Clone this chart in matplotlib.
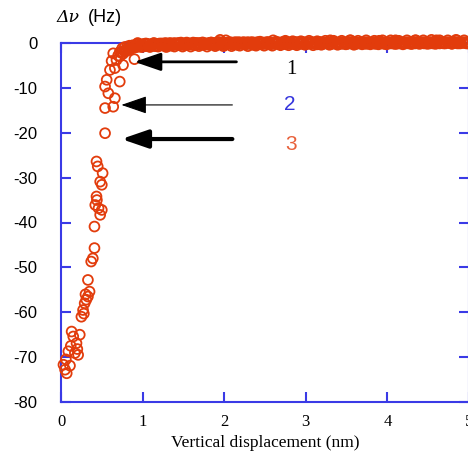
import matplotlib
matplotlib.use("Agg")
import matplotlib.pyplot as plt

# steep part of the curve
steep_x = [0.03, 0.05, 0.07, 0.11, 0.09, 0.13, 0.15, 0.19, 0.17, 0.23,
           0.21, 0.27, 0.29, 0.25, 0.31, 0.33, 0.35, 0.33, 0.37, 0.39,
           0.41, 0.41, 0.42, 0.46, 0.48, 0.50, 0.435, 0.45, 0.51, 0.48,
           0.50, 0.435, 0.54, 0.54, 0.64, 0.66, 0.58, 0.54, 0.56, 0.72,
           0.60, 0.66, 0.76, 0.64, 0.68, 0.90, 0.72, 0.06, 0.12, 0.20,
           0.28, 0.30, 0.44, 0.62, 0.70]
steep_y = [-71.7, -72.8, -73.6, -71.9, -68.7, -64.3, -65.4, -66.9, -69.1, -65.0,
           -69.5, -59.5, -58.0, -61.0, -57.2, -56.5, -55.4, -52.8, -48.7, -48.0,
           -40.9, -45.7, -36.1, -36.8, -38.3, -37.2, -26.4, -27.5, -29.0, -30.9,
           -31.6, -34.2, -20.1, -14.5, -14.2, -12.3, -11.2, -9.7, -8.2, -8.6,
           -6.0, -5.6, -4.9, -2.3, -3.8, -3.6, -3.0, -70.5, -67.5, -68.2,
           -60.3, -56.0, -35.0, -4.0, -2.8]

# the flat band near zero
band_x = [0.74, 0.77, 0.80, 0.83, 0.86, 0.90, 0.93, 0.97, 1.00, 1.04,
          1.08, 1.11, 1.15, 1.19, 1.22, 1.26, 1.30, 1.34, 1.37, 1.41,
          1.45, 1.49, 1.52, 1.56, 1.60, 1.64, 1.67, 1.71, 1.75, 1.79,
          1.82, 1.86, 1.90, 1.94, 1.97, 2.01, 2.05, 2.09, 2.12, 2.16,
          2.20, 2.24, 2.27, 2.31, 2.35, 2.39, 2.42, 2.46, 2.50, 2.54,
          2.57, 2.61, 2.65, 2.69, 2.72, 2.76, 2.80, 2.84, 2.87, 2.91,
          2.95, 2.99, 3.02, 3.06, 3.10, 3.14, 3.17, 3.21, 3.25, 3.29,
          3.32, 3.36, 3.40, 3.44, 3.47, 3.51, 3.55, 3.59, 3.62, 3.66,
          3.70, 3.74, 3.77, 3.81, 3.85, 3.89, 3.92, 3.96, 4.00, 4.04,
          4.07, 4.11, 4.15, 4.19, 4.22, 4.26, 4.30, 4.34, 4.37, 4.41,
          4.45, 4.49, 4.52, 4.56, 4.60, 4.64, 4.67, 4.71, 4.75, 4.79,
          4.82, 4.86, 4.90, 4.94, 4.97,
          0.75, 0.78, 0.81, 0.84, 0.88, 0.92, 0.95, 0.99, 1.02, 1.06,
          1.10, 1.13, 1.17, 1.21, 1.24, 1.28, 1.32, 1.36, 1.39, 1.43,
          1.47, 1.51, 1.54, 1.58, 1.62, 1.66, 1.69, 1.73, 1.77, 1.81,
          1.84, 1.88, 1.92, 1.96, 1.99, 2.03, 2.07, 2.11, 2.14, 2.18,
          2.22, 2.26, 2.29, 2.33, 2.37, 2.41, 2.44, 2.48, 2.52, 2.56,
          2.59, 2.63, 2.67, 2.71, 2.74, 2.78, 2.82, 2.86, 2.89, 2.93,
          2.97, 3.01, 3.04, 3.08, 3.12, 3.16, 3.19, 3.23, 3.27, 3.31,
          3.34, 3.38, 3.42, 3.46, 3.49, 3.53, 3.57, 3.61, 3.64, 3.68,
          3.72, 3.76, 3.79, 3.83, 3.87, 3.91, 3.94, 3.98, 4.02, 4.06,
          4.09, 4.13, 4.17, 4.21, 4.24, 4.28, 4.32, 4.36, 4.39, 4.43,
          4.47, 4.51, 4.54, 4.58, 4.62, 4.66, 4.69, 4.73, 4.77, 4.81,
          4.84, 4.88, 4.92, 4.96,
          0.89, 0.94, 0.99, 1.04, 1.09, 1.14, 1.19, 1.24, 1.29, 1.34,
          1.39, 1.44, 1.49, 1.54, 1.59, 1.64, 1.69, 1.74, 1.79, 1.84,
          1.89, 1.94, 1.99, 2.04, 2.09, 2.14, 2.19, 2.24, 2.29, 2.34,
          2.39, 2.44, 2.49, 2.54, 2.59, 2.64, 2.69, 2.74, 2.79, 2.84,
          2.89, 2.94, 2.99, 3.04, 3.09, 3.14, 3.19, 3.24, 3.29, 3.34,
          3.39, 3.44, 3.49, 3.54, 3.59, 3.64, 3.69, 3.74, 3.79, 3.84,
          3.89, 3.94, 3.99, 4.04, 4.09, 4.14, 4.19, 4.24, 4.29, 4.34,
          4.39, 4.44, 4.49, 4.54, 4.59, 4.64, 4.69, 4.74, 4.79, 4.84,
          4.89, 4.94, 4.99,
          0.72, 0.76, 0.79, 0.82, 0.85, 1.95, 2.02, 2.60, 2.75, 3.30,
          3.55, 3.90, 4.10, 4.35, 4.60, 4.85]
band_y = [-2.1, -1.8, -1.5, -1.3, -1.1, -1.0, -0.9, -0.8, -0.8, -0.7,
          -0.7, -0.6, -0.7, -0.6, -0.5, -0.6, -0.5, -0.6, -0.5, -0.4,
          -0.5, -0.4, -0.5, -0.4, -0.4, -0.5, -0.3, -0.4, -0.4, -0.3,
          -0.4, -0.3, -0.4, -0.3, -0.3, -0.4, -0.2, -0.3, -0.3, -0.4,
          -0.2, -0.3, -0.3, -0.2, -0.4, -0.3, -0.2, -0.3, -0.2, -0.3,
          -0.3, -0.2, -0.2, -0.3, -0.2, -0.3, -0.2, -0.2, -0.3, -0.2,
          -0.2, -0.3, -0.2, -0.1, -0.2, -0.3, -0.2, -0.2, -0.1, -0.2,
          -0.2, -0.1, -0.2, -0.2, -0.1, -0.2, -0.1, -0.2, -0.2, -0.1,
          -0.1, -0.2, -0.1, -0.1, -0.2, -0.1, -0.1, -0.2, -0.1, -0.1,
          -0.1, -0.2, -0.1, -0.0, -0.1, -0.1, -0.2, -0.1, -0.0, -0.1,
          -0.1, -0.0, -0.1, -0.1, -0.0, -0.1, -0.0, -0.1, -0.0, -0.1,
          -0.0, -0.1, -0.0, -0.0, -0.1,
          -1.2, -0.9, -0.8, -0.6, -0.5, -0.4, -0.3, -0.3, -0.2, -0.2,
          -0.3, -0.1, -0.2, -0.1, -0.2, -0.0, -0.1, -0.2, -0.0, -0.1,
          0.1, -0.1, 0.0, -0.1, 0.1, -0.0, 0.0, 0.1, -0.1, 0.0,
          0.1, 0.0, 0.2, 0.0, 0.1, 0.0, 0.2, 0.1, 0.0, 0.2,
          0.1, 0.0, 0.2, 0.1, 0.1, 0.2, 0.0, 0.1, 0.2, 0.1,
          0.1, 0.2, 0.1, 0.2, 0.1, 0.2, 0.1, 0.2, 0.2, 0.1,
          0.2, 0.1, 0.2, 0.2, 0.1, 0.2, 0.2, 0.1, 0.2, 0.2,
          0.2, 0.1, 0.2, 0.2, 0.1, 0.2, 0.2, 0.2, 0.1, 0.2,
          0.2, 0.2, 0.1, 0.2, 0.2, 0.2, 0.2, 0.1, 0.2, 0.2,
          0.2, 0.2, 0.2, 0.1, 0.2, 0.2, 0.2, 0.2, 0.2, 0.2,
          0.2, 0.2, 0.2, 0.2, 0.2, 0.2, 0.2, 0.2, 0.2, 0.2,
          0.2, 0.2, 0.2, 0.2,
          -1.0, 0.0, -0.9, -0.1, -0.9, 0.0, -0.8, -0.1, -0.9, 0.0,
          -0.8, 0.0, -0.8, 0.1, -0.8, 0.0, -0.7, 0.1, -0.8, 0.1,
          -0.7, 0.2, -0.7, 0.1, -0.7, 0.2, -0.6, 0.2, -0.7, 0.2,
          -0.6, 0.3, -0.6, 0.2, -0.6, 0.3, -0.5, 0.3, -0.5, 0.4,
          -0.5, 0.4, -0.4, 0.5, -0.5, 0.4, -0.4, 0.5, -0.4, 0.5,
          -0.4, 0.5, -0.3, 0.6, -0.4, 0.5, -0.3, 0.6, -0.3, 0.5,
          -0.3, 0.6, -0.3, 0.6, -0.2, 0.5, -0.3, 0.6, -0.2, 0.6,
          -0.2, 0.6, -0.2, 0.7, -0.2, 0.6, -0.1, 0.6, -0.2, 0.7,
          -0.1, 0.6, -0.1,
          -2.0, -2.4, -1.9, -1.6, -1.4, 0.7, 0.6, 0.6, 0.5, 0.6,
          0.6, 0.5, 0.6, 0.6, 0.6, 0.6]

# arrows: (tail x, tip x, y, shaft width)
arrow_tail = [2.15, 2.10, 2.10]
arrow_tip = [0.90, 0.74, 0.74]
arrow_y = [-4.2, -13.8, -21.4]
arrow_lw = [2.0, 0.8, 3.0]

label_text = ["1", "2", "3"]
label_x = [2.82, 2.80, 2.82]
label_y = [-6.0, -13.8, -22.6]
label_color = ["black", "#3535dd", "#e8603a"]
label_font = ["Liberation Serif", "Liberation Sans", "Liberation Sans"]

xticks = [0, 1, 2, 3, 4, 5]
yticks = [0, -10, -20, -30, -40, -50, -60, -70, -80]

red = "#e23c0c"
blue = "#3a3ae6"

fig = plt.figure(figsize=(4.68, 4.57), dpi=100)
ax = fig.add_axes([61 / 468, 1 - 402 / 457, 408 / 468, 359 / 457])

ax.scatter(steep_x + band_x, steep_y + band_y, s=50, facecolors="none",
           edgecolors=red, linewidths=1.3, zorder=3, clip_on=False)

for tail, tip, y, lw in zip(arrow_tail, arrow_tip, arrow_y, arrow_lw):
    ax.annotate("", xy=(tip, y), xytext=(tail, y),
                arrowprops=dict(arrowstyle="-|>,head_length=16,head_width=5.5",
                                mutation_scale=1, lw=lw, color="black",
                                shrinkA=0, shrinkB=0), zorder=4)

for t, x, y, c, f in zip(label_text, label_x, label_y, label_color, label_font):
    ax.text(x, y, t, color=c, fontsize=15, family=f, ha="center", va="center")

ax.set_xlim(0, 5)
ax.set_ylim(-80, 0)
ax.set_xticks(xticks)
ax.set_yticks(yticks)
ax.set_xticklabels([str(v) for v in xticks], family="Liberation Serif", fontsize=12)
ax.set_yticklabels([str(v) for v in yticks], family="Liberation Sans", fontsize=12)
ax.tick_params(axis="both", direction="in", length=7, width=1.5, color=blue,
               top=True, right=True)
ax.tick_params(axis="y", pad=17)
ax.tick_params(axis="x", pad=9)
for sp in ax.spines.values():
    sp.set_color(blue)
    sp.set_linewidth(1.5)

ax.set_xlabel("Vertical displacement (nm)", family="Liberation Serif",
              fontsize=12.5, labelpad=3)

# y label sits above the axis, top-left
fig.text(57 / 468, 1 - 22 / 457, "\u0394\u03bd", family="DejaVu Serif",
         style="italic", fontsize=12.5)
fig.text(88 / 468, 1 - 22 / 457, "(Hz)", family="Liberation Sans", fontsize=13)

fig.savefig("out.png", dpi=100)
